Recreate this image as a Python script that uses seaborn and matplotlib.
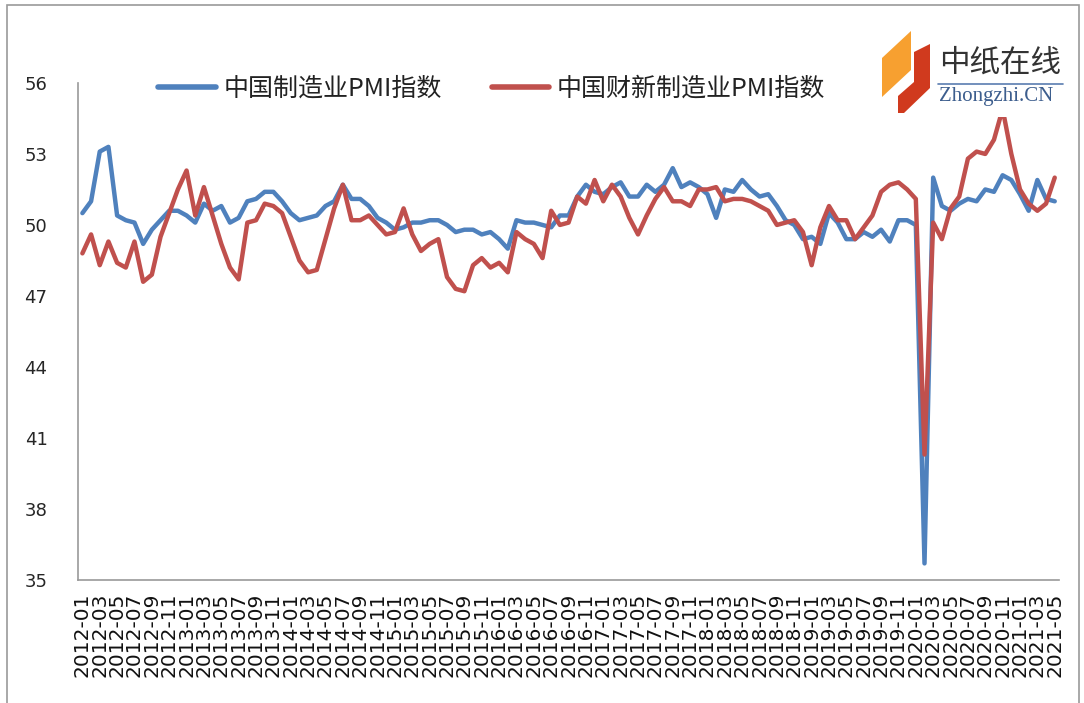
import matplotlib
matplotlib.use('Agg')
import matplotlib.pyplot as plt
from matplotlib.patches import Rectangle, Polygon
import seaborn as sns
import pandas as pd
import numpy as np

# Monthly data, 2012-01 .. 2021-05
months = pd.period_range('2012-01', '2021-05', freq='M').strftime('%Y-%m').tolist()

# 中国制造业PMI指数 (NBS)
nbs_pmi = [
    50.5, 51.0, 53.1, 53.3, 50.4, 50.2, 50.1, 49.2, 49.8, 50.2, 50.6, 50.6,  # 2012
    50.4, 50.1, 50.9, 50.6, 50.8, 50.1, 50.3, 51.0, 51.1, 51.4, 51.4, 51.0,  # 2013
    50.5, 50.2, 50.3, 50.4, 50.8, 51.0, 51.7, 51.1, 51.1, 50.8, 50.3, 50.1,  # 2014
    49.8, 49.9, 50.1, 50.1, 50.2, 50.2, 50.0, 49.7, 49.8, 49.8, 49.6, 49.7,  # 2015
    49.4, 49.0, 50.2, 50.1, 50.1, 50.0, 49.9, 50.4, 50.4, 51.2, 51.7, 51.4,  # 2016
    51.3, 51.6, 51.8, 51.2, 51.2, 51.7, 51.4, 51.7, 52.4, 51.6, 51.8, 51.6,  # 2017
    51.3, 50.3, 51.5, 51.4, 51.9, 51.5, 51.2, 51.3, 50.8, 50.2, 50.0, 49.4,  # 2018
    49.5, 49.2, 50.5, 50.1, 49.4, 49.4, 49.7, 49.5, 49.8, 49.3, 50.2, 50.2,  # 2019
    50.0, 35.7, 52.0, 50.8, 50.6, 50.9, 51.1, 51.0, 51.5, 51.4, 52.1, 51.9,  # 2020
    51.3, 50.6, 51.9, 51.1, 51.0,                                            # 2021
]

# 中国财新制造业PMI指数 (Caixin)
caixin_pmi = [
    48.8, 49.6, 48.3, 49.3, 48.4, 48.2, 49.3, 47.6, 47.9, 49.5, 50.5, 51.5,  # 2012
    52.3, 50.4, 51.6, 50.4, 49.2, 48.2, 47.7, 50.1, 50.2, 50.9, 50.8, 50.5,  # 2013
    49.5, 48.5, 48.0, 48.1, 49.4, 50.7, 51.7, 50.2, 50.2, 50.4, 50.0, 49.6,  # 2014
    49.7, 50.7, 49.6, 48.9, 49.2, 49.4, 47.8, 47.3, 47.2, 48.3, 48.6, 48.2,  # 2015
    48.4, 48.0, 49.7, 49.4, 49.2, 48.6, 50.6, 50.0, 50.1, 51.2, 50.9, 51.9,  # 2016
    51.0, 51.7, 51.2, 50.3, 49.6, 50.4, 51.1, 51.6, 51.0, 51.0, 50.8, 51.5,  # 2017
    51.5, 51.6, 51.0, 51.1, 51.1, 51.0, 50.8, 50.6, 50.0, 50.1, 50.2, 49.7,  # 2018
    48.3, 49.9, 50.8, 50.2, 50.2, 49.4, 49.9, 50.4, 51.4, 51.7, 51.8, 51.5,  # 2019
    51.1, 40.3, 50.1, 49.4, 50.7, 51.2, 52.8, 53.1, 53.0, 53.6, 54.9, 53.0,  # 2020
    51.5, 50.9, 50.6, 50.9, 52.0,                                            # 2021
]

series_names = ['中国制造业PMI指数', '中国财新制造业PMI指数']
series_colors = ['#4F81BD', '#C0504D']
y_ticks = [35, 38, 41, 44, 47, 50, 53, 56]

df = pd.DataFrame({'idx': np.arange(len(months)),
                   series_names[0]: nbs_pmi,
                   series_names[1]: caixin_pmi})
long_df = df.melt(id_vars='idx', var_name='series', value_name='pmi')

sns.set_style('white')
plt.rcParams['font.family'] = ['DejaVu Sans']

fig = plt.figure(figsize=(10.84, 7.03), dpi=100)
ax = fig.add_axes([0.072, 0.175, 0.905, 0.707])

sns.lineplot(data=long_df, x='idx', y='pmi', hue='series', hue_order=series_names,
             palette=series_colors, linewidth=3.2, ax=ax, legend=False)
for ln in ax.lines:
    ln.set_solid_joinstyle('round')
    ln.set_solid_capstyle('round')

ax.set_xlim(-0.5, len(months) - 0.5)
ax.set_ylim(35, 56)
ax.set_yticks(y_ticks)
ax.set_xticks(np.arange(0, len(months), 2))
ax.set_xticklabels(months[::2], rotation=90, fontsize=14.5)
ax.set_xticks(np.arange(-0.5, len(months) - 1, 2), minor=True)
ax.tick_params(axis='x', which='major', length=0, pad=9, labelcolor='#111111')
ax.tick_params(axis='x', which='minor', length=6, width=1, color='#999999', direction='out')
ax.tick_params(axis='y', length=6, width=1, color='#999999', direction='out',
               labelsize=13, pad=16)
ax.set_xlabel('')
ax.set_ylabel('')

for side in ['top', 'right']:
    ax.spines[side].set_visible(False)
for side in ['left', 'bottom']:
    ax.spines[side].set_color('#999999')
    ax.spines[side].set_linewidth(1.2)

# legend
handles = [plt.Line2D([], [], color=c, lw=4, solid_capstyle='round') for c in series_colors]
leg = ax.legend(handles, series_names, loc='center left', ncol=2,
                bbox_to_anchor=(0.146, 1 - 89 / 703), bbox_transform=fig.transFigure,
                frameon=False, handlelength=2.3, handletextpad=0.3, columnspacing=2.0,
                borderpad=0, borderaxespad=0,
                prop={'family': ['Noto Sans CJK SC', 'DejaVu Sans'], 'size': 18})
for t in leg.get_texts():
    t.set_color('#222222')

# logo (top right)
W, H = 1084, 703
def fx(x):
    return x / W
def fy(y):
    return 1 - y / H

fig.patches.append(Rectangle((fx(876), fy(117)), fx(1066 - 876), (117 - 24) / H,
                             transform=fig.transFigure, facecolor='white',
                             edgecolor='none', zorder=5))
fig.patches.append(Polygon([(fx(882), fy(58)), (fx(911), fy(31)), (fx(911), fy(70)),
                            (fx(882), fy(97))], closed=True, transform=fig.transFigure,
                           facecolor='#F7A030', edgecolor='none', zorder=6))
fig.patches.append(Polygon([(fx(914), fy(52)), (fx(930), fy(44)), (fx(930), fy(88)),
                            (fx(904), fy(113)), (fx(898), fy(113)), (fx(898), fy(96)),
                            (fx(914), fy(82))], closed=True, transform=fig.transFigure,
                           facecolor='#D03A1E', edgecolor='none', zorder=6))
fig.text(fx(939), fy(63), '中纸在线', family=['Noto Sans CJK SC'], fontsize=22,
         color='#333333', va='center', ha='left', zorder=7)
fig.add_artist(plt.Line2D([fx(938), fx(1063)], [fy(84), fy(84)], color='#5A7DB0',
                          lw=1.2, transform=fig.transFigure, zorder=7))
fig.text(fx(939), fy(96), 'Zhongzhi.CN', family=['Liberation Serif'], fontsize=15,
         color='#3D5E8E', va='center', ha='left', zorder=7)

# outer frame
fig.patches.append(Rectangle((fx(7), fy(710)), fx(1079 - 7), (710 - 5) / H,
                             transform=fig.transFigure, fill=False,
                             edgecolor='#9a9a9a', lw=1.2, zorder=8))

fig.savefig('out.png', dpi=100)
